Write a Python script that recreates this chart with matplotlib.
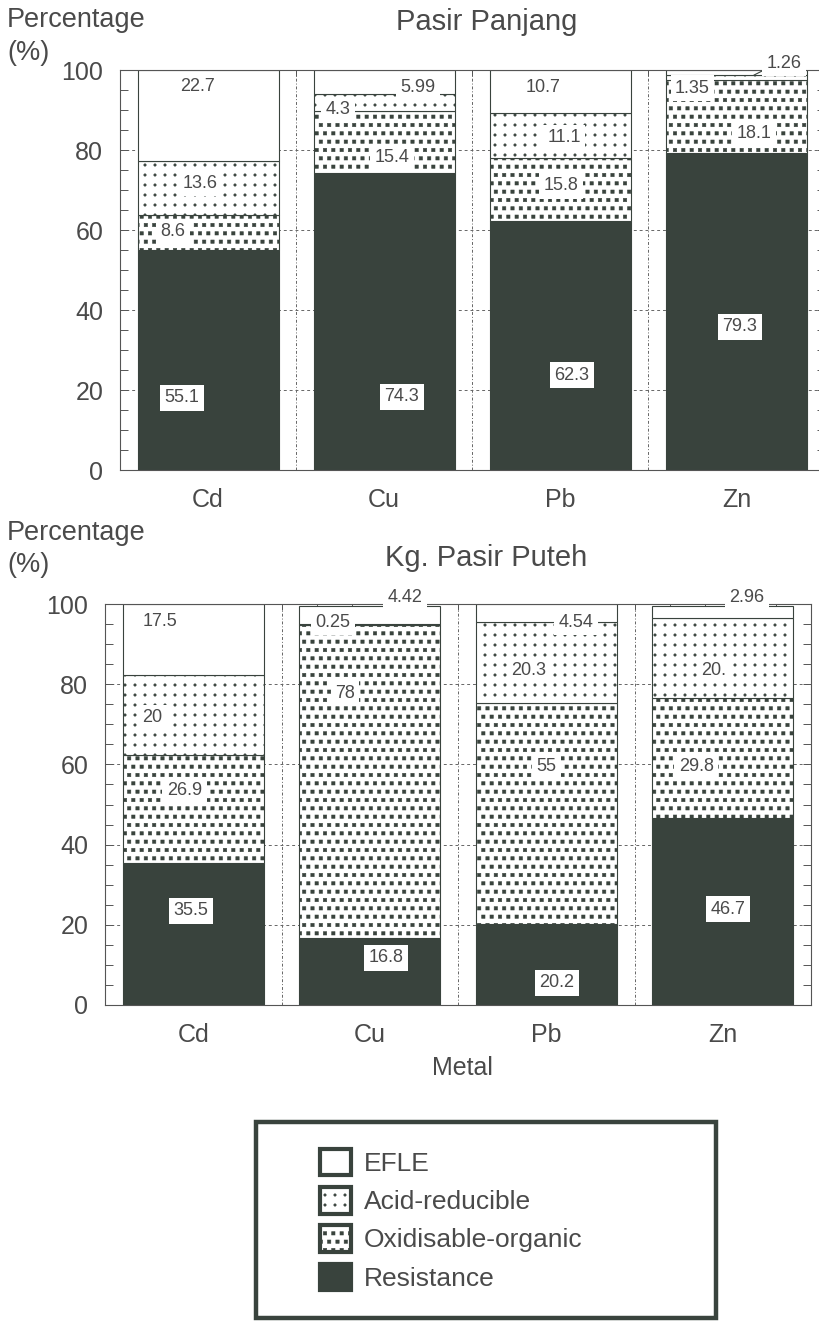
import numpy as np
import matplotlib
matplotlib.use('Agg')
import matplotlib.pyplot as plt
from matplotlib import hatch as mhatch
from matplotlib import font_manager
from matplotlib.path import Path
from matplotlib.patches import Patch, Rectangle


metals = ['Cd', 'Cu', 'Pb', 'Zn']
fractions = ['Resistance', 'Oxidisable-organic', 'Acid-reducible', 'EFLE']

# Pasir Panjang (% of total metal in each fraction)
panjang_resistance = [55.1, 74.3, 62.3, 79.3]
panjang_oxidisable = [8.6, 15.4, 15.8, 18.1]
panjang_acid = [13.6, 4.3, 11.1, 1.35]
panjang_efle = [22.7, 5.99, 10.7, 1.26]

# Kg. Pasir Puteh
puteh_resistance = [35.5, 16.8, 20.2, 46.7]
puteh_oxidisable = [26.9, 78, 55, 29.8]
puteh_acid = [20, 0.25, 20.3, 20]
puteh_efle = [17.5, 4.42, 4.54, 2.96]

# where each value label sits: (offset from bar centre, y in %), per fraction then metal
panjang_label_pos = [
    [(-0.15, 18), (0.10, 18.3), (0.065, 23.7), (0.02, 35.8)],
    [(-0.20, 59.5), (0.045, 78), (0.005, 71), (0.10, 84.2)],
    [(-0.045, 71.7), (-0.26, 90), (0.02, 83), (-0.25, 95.4)],
    [(-0.06, 95.8), (0.19, 95.5), (-0.10, 95.5), (0.27, 101.7)],
]
puteh_label_pos = [
    [(-0.015, 23.5), (0.09, 11.8), (0.06, 5.6), (0.03, 23.9)],
    [(-0.05, 53.6), (-0.14, 77.8), (0.0, 59.6), (-0.15, 59.4)],
    [(-0.23, 71.6), (-0.21, 95.5), (-0.10, 83.5), (-0.05, 83.5)],
    [(-0.19, 95.6), (0.20, 101.7), (0.17, 95.5), (0.135, 101.5)],
]

DARK = '#39433d'
TEXT = '#4a4a4a'


class SmallSquares(mhatch.Shapes):
    # staggered filled squares, drawn for the '*' hatch
    size = 0.2
    filled = True

    def __init__(self, hatch, density):
        self.num_rows = hatch.count('*') * 6
        sq = Path.unit_rectangle()
        self.shape_vertices = (sq.vertices - 0.5) * 2
        self.shape_codes = sq.codes
        super().__init__(hatch, density)


class GridDots(mhatch.HatchPatternBase):
    # plain square grid of small filled dots, drawn for the '.' hatch
    radius = 0.012

    def __init__(self, hatch, density):
        self.n = hatch.count('.') * 10
        circ = Path.unit_circle()
        self.shape_vertices = circ.vertices
        self.shape_codes = circ.codes
        self.num_vertices = self.n * self.n * len(circ.vertices)

    def set_vertices_and_codes(self, vertices, codes):
        pos = (np.arange(self.n) + 0.5) / self.n
        verts, cods = [], []
        for yy in pos:
            for xx in pos:
                verts.append(self.shape_vertices * self.radius + [xx, yy])
                cods.append(self.shape_codes)
        np.concatenate(verts, out=vertices)
        np.concatenate(cods, out=codes)


mhatch._hatch_types = [t for t in mhatch._hatch_types
                       if t not in (mhatch.Stars, mhatch.SmallFilledCircles)] + [SmallSquares, GridDots]

installed = {f.name for f in font_manager.fontManager.ttflist}
if 'Liberation Sans Narrow' in installed:
    value_font, value_size = 'Liberation Sans Narrow', 14.5
else:
    value_font, value_size = 'Liberation Sans', 13

plt.rcParams['font.family'] = ['Liberation Sans', 'DejaVu Sans']
plt.rcParams['hatch.linewidth'] = 0.4

styles = {
    'Resistance': dict(color=DARK, hatch=None),
    'Oxidisable-organic': dict(color='white', hatch='**'),
    'Acid-reducible': dict(color='white', hatch='.'),
    'EFLE': dict(color='white', hatch=None),
}


def draw_site(ax, segments, label_pos, title_x, title_y, title):
    x = np.arange(len(metals))
    bottom = np.zeros(len(metals))
    for name, vals, positions in zip(fractions, segments, label_pos):
        st = styles[name]
        ax.bar(x, vals, 0.8, bottom=bottom, color=st['color'], hatch=st['hatch'],
               edgecolor=DARK, linewidth=0.8, zorder=2)
        for i, v in enumerate(vals):
            dx, ly = positions[i]
            txt = f'{v:g}'
            if name == 'Acid-reducible' and metals[i] == 'Zn' and v == 20:
                txt = '20.'
            ax.text(x[i] + dx, ly, txt, ha='center', va='center', fontsize=value_size,
                    family=value_font, color=TEXT, zorder=5, clip_on=False,
                    bbox=dict(boxstyle='square,pad=0.25', fc='white', ec='none'))
        bottom = bottom + np.array(vals)

    ax.set_xlim(-0.5, len(metals) - 0.5)
    ax.set_ylim(0, 100)
    ax.set_xticks(x)
    ax.set_xticklabels(metals, fontsize=18, color=TEXT)
    ax.set_xticks(np.arange(-0.3, 3.5, 0.2), minor=True)
    ax.set_yticks(np.arange(0, 101, 20))
    ax.set_yticks(np.arange(0, 101, 5), minor=True)
    ax.tick_params(axis='y', which='both', direction='in', left=True, right=True,
                   length=6, width=0.7, color='#555555', labelsize=18,
                   labelcolor=TEXT, pad=12)
    ax.tick_params(axis='x', which='major', length=0, pad=13)
    ax.tick_params(axis='x', which='minor', direction='in', top=True, bottom=False,
                   length=4, width=0.7, color='#555555')

    for y in [20, 40, 60, 80]:
        ax.axhline(y, color='#666666', lw=0.7, ls=(0, (3, 3)), zorder=0.5)
    for xv in [0.5, 1.5, 2.5]:
        ax.axvline(xv, color='#666666', lw=0.7, ls=(0, (3, 2, 1, 2)), zorder=0.5)

    for sp in ax.spines.values():
        sp.set_color('#555555')
        sp.set_linewidth(0.8)

    fig.text(title_x, title_y, title, ha='center', va='center', fontsize=21, color=TEXT)


fig = plt.figure(figsize=(8.19, 13.21), dpi=100)
W, H = 819.0, 1321.0

ax1 = fig.add_axes([120 / W, 1 - 470 / H, 704.6 / W, 400 / H])
ax2 = fig.add_axes([105 / W, 1 - 1005 / H, 706 / W, 401 / H])

draw_site(ax1, [panjang_resistance, panjang_oxidisable, panjang_acid, panjang_efle],
          panjang_label_pos, 487 / W, 1 - 22 / H, 'Pasir Panjang')
draw_site(ax2, [puteh_resistance, puteh_oxidisable, puteh_acid, puteh_efle],
          puteh_label_pos, 486 / W, 1 - 558 / H, 'Kg. Pasir Puteh')

# small leader from the Zn acid-reducible band up to its label
zn_top = panjang_resistance[3] + panjang_oxidisable[3] + panjang_acid[3]
ax1.plot([3.1, 3.17], [zn_top, 100.3], color=DARK, lw=0.8, clip_on=False, zorder=4)

for y_pct, y_unit in [(20, 53), (533, 565)]:
    fig.text(7 / W, 1 - y_pct / H, 'Percentage', ha='left', va='center', fontsize=19.5, color=TEXT)
    fig.text(7 / W, 1 - y_unit / H, '(%)', ha='left', va='center', fontsize=19.5, color=TEXT)

fig.text(462 / W, 1 - 1068 / H, 'Metal', ha='center', va='center', fontsize=18, color=TEXT)

# legend
handles = []
for name in ['EFLE', 'Acid-reducible', 'Oxidisable-organic', 'Resistance']:
    st = styles[name]
    handles.append(Patch(facecolor=st['color'], hatch=st['hatch'], edgecolor=DARK,
                         linewidth=3, label=name))
fig.legend(handles=handles, loc='upper left', bbox_to_anchor=(307 / W, 1 - 1136 / H),
           frameon=False, fontsize=19, handlelength=1.15, handleheight=1.15,
           handletextpad=0.5, labelspacing=0.42, borderpad=0, labelcolor=TEXT)
fig.patches.append(Rectangle((256 / W, 3 / H), 460 / W, 196 / H, transform=fig.transFigure,
                             fill=False, edgecolor=DARK, linewidth=3.2))

fig.savefig('out.png', dpi=100, facecolor='white')
